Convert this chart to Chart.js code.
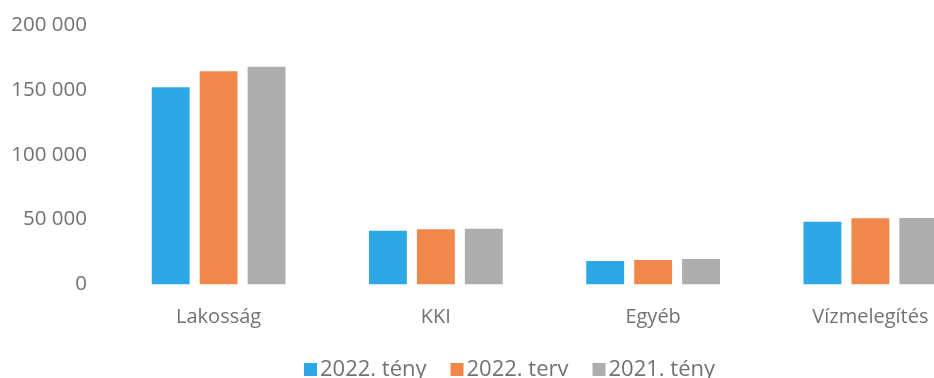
<!DOCTYPE html>
<html>
<head>
<meta charset="utf-8">
<script src="https://cdn.jsdelivr.net/npm/chart.js@4/dist/chart.umd.min.js"></script>
<style>
  html, body { margin: 0; padding: 0; background: #ffffff; overflow: hidden; }
  #wrap { position: relative; width: 1019px; height: 392px; }
</style>
</head>
<body>
<div id="wrap"><canvas id="c" width="1019" height="392"></canvas></div>
<script>
// Fogyasztói csoportok és sorozatok
const categories = ['Lakosság', 'KKI', 'Egyéb', 'Vízmelegítés'];
const seriesNames = ['2022. tény', '2022. terv', '2021. tény'];
const teny2022 = [152000, 41500, 18100, 48400];
const terv2022 = [164300, 42500, 18900, 51000];
const teny2021 = [167900, 43000, 19650, 51250];
const yTicks = [0, 50000, 100000, 150000, 200000];

const colors = ['#2ea7e6', '#f0884c', '#adadad'];
const textColor = '#727272';
const fontFamily = '"Open Sans", "DejaVu Sans", sans-serif';

// 200000 -> "200 000"
const fmt = v => String(v).replace(/\B(?=(\d{3})+(?!\d))/g, ' ');

const values = [teny2022, terv2022, teny2021];
const datasets = seriesNames.map((name, i) => ({
  label: name,
  data: values[i],
  backgroundColor: colors[i],
  borderWidth: 0,
  categoryPercentage: 0.662,
  barPercentage: 0.79
}));

// Compact legend under the axis: small square, short gap, label
const bottomLegend = {
  id: 'bottomLegend',
  afterDraw(chart) {
    const ctx = chart.ctx;
    const box = 13, gap = 3, spacing = 24, y = 369.5;
    ctx.save();
    ctx.font = '22px ' + fontFamily;
    ctx.textBaseline = 'middle';
    const items = chart.data.datasets.map(d => ({
      text: d.label, color: d.backgroundColor, w: ctx.measureText(d.label).width
    }));
    const total = items.reduce((s, it) => s + box + gap + it.w, 0) + spacing * (items.length - 1);
    let x = chart.width / 2 - total / 2;
    items.forEach(it => {
      ctx.fillStyle = it.color;
      ctx.fillRect(x, y - box / 2, box, box);
      ctx.fillStyle = textColor;
      ctx.fillText(it.text, x + box + gap, y);
      x += box + gap + it.w + spacing;
    });
    ctx.restore();
  }
};

new Chart(document.getElementById('c'), {
  type: 'bar',
  data: { labels: categories, datasets },
  plugins: [bottomLegend],
  options: {
    responsive: false,
    animation: false,
    devicePixelRatio: 1,
    layout: { padding: { left: 0, right: 40, top: 25, bottom: 0 } },
    plugins: {
      tooltip: { enabled: false },
      legend: { display: false }
    },
    scales: {
      x: {
        afterFit: s => { s.height = 107.5; s.paddingLeft = 0; s.paddingRight = 0; },
        grid: { display: false, drawTicks: false },
        border: { display: false },
        ticks: {
          color: textColor,
          font: { family: fontFamily, size: 20 },
          padding: 20.5
        }
      },
      y: {
        min: 0,
        max: 200000,
        afterBuildTicks: s => { s.ticks = yTicks.map(v => ({ value: v })); },
        afterFit: s => { s.width = 110; s.paddingTop = 0; s.paddingBottom = 0; },
        grid: { display: false, drawTicks: false },
        border: { display: false },
        ticks: {
          color: textColor,
          font: { family: fontFamily, size: 20.5 },
          padding: 23,
          callback: v => fmt(v)
        }
      }
    }
  }
});
</script>
</body>
</html>
